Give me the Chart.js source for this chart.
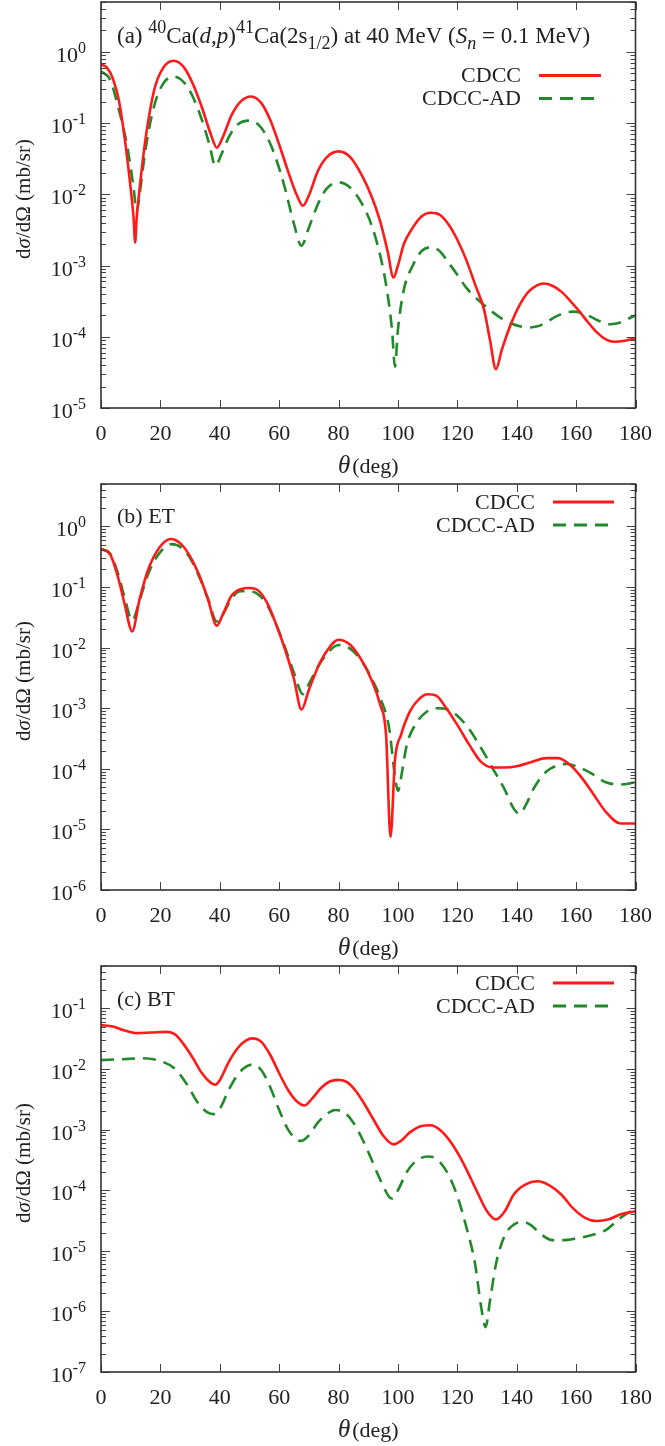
<!DOCTYPE html>
<html>
<head>
<meta charset="utf-8">
<script src="https://cdn.jsdelivr.net/npm/chart.js@4.4.1/dist/chart.umd.min.js"></script>
<style>
  html, body { margin: 0; padding: 0; background: #fff; }
  .panel { position: relative; width: 665px; height: 482px; }
</style>
</head>
<body>
<div class="panel"><canvas id="chartA"></canvas></div>
<div class="panel"><canvas id="chartB"></canvas></div>
<div class="panel"><canvas id="chartC"></canvas></div>
<script>
// ---- dados ----
const xTicks = [0, 20, 40, 60, 80, 100, 120, 140, 160, 180];
const seriesNames = ['CDCC', 'CDCC-AD'];

// (a) 40Ca(d,p)41Ca(2s1/2)
const aCdccTheta = [0, 2, 4, 6, 8, 10, 11, 11.5, 12, 13, 15, 18, 21, 24.5, 28, 31, 34, 37, 39, 41, 44, 47, 50.5, 54, 57, 60, 63, 66, 68, 70, 73, 76, 80, 84, 88, 91, 94, 96.5, 98.5, 100, 102, 105, 108, 111, 114, 117, 120, 123, 126, 129, 131, 133, 135, 138, 141, 144, 147, 149, 152, 155, 158, 161, 164, 167, 170, 173, 176, 180];
const aCdcc = [0.66, 0.6, 0.42, 0.21, 0.06, 0.012, 0.0045, 0.0021, 0.0045, 0.012, 0.06, 0.3, 0.6, 0.75, 0.6, 0.35, 0.165, 0.069, 0.045, 0.063, 0.13, 0.2, 0.236, 0.19, 0.11, 0.05, 0.021, 0.0096, 0.0069, 0.0096, 0.021, 0.033, 0.040, 0.033, 0.018, 0.0096, 0.0042, 0.0016, 0.00068, 0.001, 0.002, 0.0034, 0.0049, 0.0055, 0.0052, 0.0038, 0.0023, 0.0012, 0.00054, 0.00024, 0.00009, 0.000035, 0.000066, 0.00015, 0.00028, 0.00043, 0.00053, 0.00056, 0.00052, 0.00043, 0.00032, 0.00023, 0.00016, 0.000115, 0.000092, 0.000085, 0.000087, 0.000095];
const aAdTheta = [0, 3, 6, 9, 11, 12, 13, 15, 18, 21, 24.5, 28, 31, 34, 36.5, 38.5, 40.5, 43, 46, 50, 53, 56, 59, 62, 65, 67.5, 70, 73, 76, 80, 84, 88, 91, 94, 96, 98, 99, 100, 102, 105, 108, 111, 114, 117, 120, 123, 126, 129, 132, 135, 138, 141, 144, 147, 150, 153, 156, 159, 162, 165, 168, 171, 174, 177, 180];
const aAd = [0.53, 0.41, 0.155, 0.043, 0.012, 0.0057, 0.01, 0.043, 0.18, 0.36, 0.45, 0.37, 0.23, 0.11, 0.05, 0.025, 0.036, 0.063, 0.095, 0.108, 0.095, 0.063, 0.031, 0.012, 0.0038, 0.0019, 0.0034, 0.0072, 0.012, 0.0147, 0.0123, 0.0072, 0.0038, 0.0014, 0.00054, 0.000126, 0.000038, 0.000126, 0.00046, 0.001, 0.0016, 0.0018, 0.0016, 0.0011, 0.00074, 0.00049, 0.00036, 0.00028, 0.00022, 0.00018, 0.000155, 0.00014, 0.000135, 0.00014, 0.00016, 0.00019, 0.000215, 0.000225, 0.000215, 0.00019, 0.000165, 0.00015, 0.000155, 0.000175, 0.0002];

// (b) ET
const bCdccTheta = [0, 3, 6, 8, 10.5, 13, 16, 20, 23.5, 27, 30, 33, 36, 39, 41, 44, 47, 50, 53, 56, 59, 62, 65, 67.5, 70, 73, 76, 80, 84, 88, 91, 94, 96, 97.5, 99, 101, 104, 107, 110, 113, 116, 120, 124, 128, 132, 136, 140, 145, 150, 154, 158, 162, 166, 170, 175, 180];
const bCdcc = [0.42, 0.35, 0.13, 0.051, 0.0185, 0.063, 0.2, 0.47, 0.62, 0.51, 0.32, 0.16, 0.063, 0.023, 0.035, 0.072, 0.092, 0.096, 0.087, 0.054, 0.024, 0.0093, 0.003, 0.00095, 0.002, 0.0047, 0.0087, 0.0135, 0.011, 0.0059, 0.003, 0.00115, 0.00036, 0.0000075, 0.00014, 0.00036, 0.00088, 0.0014, 0.0017, 0.0016, 0.00105, 0.00053, 0.00025, 0.00013, 0.000105, 0.000105, 0.00011, 0.00013, 0.00015, 0.00015, 0.000115, 0.00007, 0.000037, 0.0000195, 0.0000125, 0.0000125];
const bAdTheta = [0, 3, 6, 8, 10.5, 13, 16, 20, 24, 27, 30, 33, 36, 39, 41, 44, 47, 50, 53, 56, 59, 62, 65, 68, 70, 73, 76, 80, 84, 88, 91, 94, 97, 99, 100, 101, 103, 106, 110, 113, 117, 120, 124, 128, 132, 136, 139, 141, 143, 146, 150, 154, 157, 160, 165, 170, 175, 180];
const bAd = [0.42, 0.36, 0.15, 0.065, 0.028, 0.06, 0.17, 0.38, 0.51, 0.45, 0.3, 0.15, 0.065, 0.027, 0.035, 0.065, 0.085, 0.085, 0.075, 0.05, 0.024, 0.01, 0.0038, 0.0017, 0.0025, 0.0048, 0.0078, 0.011, 0.0095, 0.0058, 0.0032, 0.0015, 0.00048, 0.000075, 0.000043, 0.00007, 0.00025, 0.00055, 0.0009, 0.001, 0.00095, 0.00075, 0.00045, 0.00022, 0.0001, 0.000045, 0.000022, 0.000018, 0.000025, 0.00005, 0.00009, 0.000115, 0.00012, 0.00011, 0.000085, 0.00006, 0.000055, 0.00006];

// (c) BT
const cCdccTheta = [0, 4, 8, 12, 17, 22, 25, 28, 31, 34, 37, 38.5, 40, 43, 46, 49, 51, 54, 57, 60, 63, 66, 68.5, 71, 74, 77, 80, 83, 86, 89, 92, 95, 98.5, 101, 104, 108, 111, 114, 118, 122, 126, 130, 133, 136, 139, 143, 147, 151, 155, 159, 163, 167, 171, 175, 180];
const cCdcc = [0.053, 0.05, 0.043, 0.039, 0.04, 0.041, 0.037, 0.025, 0.015, 0.0085, 0.0059, 0.0055, 0.0065, 0.013, 0.022, 0.03, 0.032, 0.028, 0.017, 0.0085, 0.0045, 0.0029, 0.0025, 0.0032, 0.0048, 0.0062, 0.0066, 0.006, 0.0042, 0.0025, 0.0014, 0.0008, 0.00057, 0.00065, 0.0009, 0.00115, 0.00118, 0.001, 0.0006, 0.00028, 0.00011, 0.000045, 0.000033, 0.000045, 0.000085, 0.000125, 0.00014, 0.00012, 0.000085, 0.00005, 0.000035, 0.000031, 0.000033, 0.00004, 0.000045];
const cAdTheta = [0, 7, 14, 20, 25, 29, 33, 36, 38, 40, 43, 46, 49, 51, 54, 57, 60, 63, 66, 67.5, 70, 73, 76, 79, 82, 85, 88, 91, 94, 97, 98, 100, 103, 106, 110, 113, 117, 120, 123, 126, 128, 129.5, 131, 133, 136, 139, 142, 145, 148, 152, 156, 160, 165, 170, 175, 180];
const cAd = [0.014, 0.0145, 0.015, 0.0135, 0.01, 0.0055, 0.0026, 0.0019, 0.0018, 0.0022, 0.0045, 0.008, 0.011, 0.0118, 0.0095, 0.005, 0.0021, 0.001, 0.00068, 0.00065, 0.0008, 0.0013, 0.0018, 0.0021, 0.0019, 0.0013, 0.0007, 0.00033, 0.00015, 0.000078, 0.000073, 0.0001, 0.0002, 0.0003, 0.00036, 0.00033, 0.00018, 0.00008, 0.000025, 0.000006, 0.0000012, 0.00000055, 0.0000015, 0.000006, 0.000018, 0.000027, 0.00003, 0.000026, 0.000019, 0.000015, 0.000015, 0.000016, 0.000018, 0.000022, 0.000035, 0.00005];

// ---- estilo ----
const FONT = '"Liberation Serif", "Times New Roman", serif';
const RED = '#ff1a1a';
const GREEN = '#22892a';
const AXIS = '#333333';

function pares(theta, vals) {
    return theta.map((t, i) => ({ x: t, y: vals[i] }));
}

// desenha texto com sobrescrito / subscrito / itálico
function textoRico(ctx, x, y, partes, size) {
    let cx = x;
    partes.forEach(p => {
        const pequeno = p.sup || p.sub;
        const fs = pequeno ? Math.round(size * 0.8) : (p.size || size);
        ctx.font = (p.i ? 'italic ' : '') + fs + 'px ' + FONT;
        const dy = p.sup ? -size * 0.42 : (p.sub ? size * 0.26 : 0);
        ctx.fillText(p.t, cx, y + dy);
        cx += ctx.measureText(p.t).width + (p.gap || 0);
    });
    return cx - x;
}

function larguraRica(ctx, partes, size) {
    let w = 0;
    partes.forEach(p => {
        const pequeno = p.sup || p.sub;
        const fs = pequeno ? Math.round(size * 0.8) : (p.size || size);
        ctx.font = (p.i ? 'italic ' : '') + fs + 'px ' + FONT;
        w += ctx.measureText(p.t).width + (p.gap || 0);
    });
    return w;
}

// plugin: moldura, ticks internos, rótulos 10^n, títulos e legenda
const moldura = {
    id: 'moldura',
    afterDatasetsDraw(chart, args, opts) {
        const ctx = chart.ctx;
        const a = chart.chartArea;
        const xs = chart.scales.x;
        const ys = chart.scales.y;
        ctx.save();

        // ticks do eixo x (para dentro, em baixo e em cima)
        ctx.strokeStyle = '#444';
        ctx.lineWidth = 1;
        xTicks.forEach(t => {
            const px = Math.round(xs.getPixelForValue(t)) + 0.5;
            ctx.beginPath();
            ctx.moveTo(px, a.bottom); ctx.lineTo(px, a.bottom - 8);
            ctx.moveTo(px, a.top); ctx.lineTo(px, a.top + 8);
            ctx.stroke();
        });

        // ticks do eixo y (décadas e subdivisões)
        const e0 = Math.floor(Math.log10(ys.min));
        const e1 = Math.ceil(Math.log10(ys.max));
        for (let e = e0; e <= e1; e++) {
            for (let m = 1; m <= 9; m++) {
                const v = m * Math.pow(10, e);
                if (v < ys.min * 0.999 || v > ys.max * 1.001) continue;
                const py = Math.round(ys.getPixelForValue(v)) + 0.5;
                const len = m === 1 ? 9 : 5;
                ctx.beginPath();
                ctx.moveTo(a.left, py); ctx.lineTo(a.left + len, py);
                ctx.moveTo(a.right, py); ctx.lineTo(a.right - len, py);
                ctx.stroke();
            }
        }

        // moldura
        ctx.strokeStyle = AXIS;
        ctx.lineWidth = 1.6;
        ctx.strokeRect(a.left, a.top, a.right - a.left, a.bottom - a.top);

        // rótulos 10^n
        ctx.fillStyle = '#222';
        ctx.textBaseline = 'alphabetic';
        for (let e = e0; e <= e1; e++) {
            const v = Math.pow(10, e);
            if (v < ys.min * 0.999 || v > ys.max * 1.001) continue;
            const py = ys.getPixelForValue(v);
            const exp = String(e);
            ctx.font = '16px ' + FONT;
            const we = ctx.measureText(exp).width;
            const xr = a.left - 15;
            ctx.textAlign = 'left';
            ctx.fillText(exp, xr - we, py + 1);
            ctx.font = '22px ' + FONT;
            ctx.textAlign = 'right';
            ctx.fillText('10', xr - we, py + 10);
        }

        // título do eixo x: θ(deg)
        ctx.textAlign = 'left';
        const cxm = (a.left + a.right) / 2;
        const tx = [{ t: 'θ', i: true, size: 25, gap: 2 }, { t: '(deg)' }];
        const wt = larguraRica(ctx, tx, 22);
        textoRico(ctx, cxm - wt / 2, a.bottom + 65, tx, 22);

        // título do eixo y
        ctx.save();
        ctx.translate(30, (a.top + a.bottom) / 2 - 6);
        ctx.rotate(-Math.PI / 2);
        const ty = [{ t: 'd' }, { t: 'σ', i: true }, { t: '/dΩ (mb/sr)' }];
        const wy = larguraRica(ctx, ty, 21);
        textoRico(ctx, -wy / 2, 0, ty, 21);
        ctx.restore();

        // rótulo do painel
        textoRico(ctx, 117, opts.labelY, opts.label, opts.labelSize || 22);

        // legenda
        ctx.font = '22px ' + FONT;
        ctx.textAlign = 'right';
        ctx.textBaseline = 'middle';
        const cores = [RED, GREEN];
        seriesNames.forEach((nome, i) => {
            const ly = opts.legY[i];
            ctx.fillStyle = '#222';
            ctx.fillText(nome, opts.legX, ly + 1);
            ctx.strokeStyle = cores[i];
            ctx.lineWidth = 3;
            ctx.setLineDash(i === 0 ? [] : [13, 8]);
            ctx.beginPath();
            ctx.moveTo(opts.lineX[0], ly);
            ctx.lineTo(opts.lineX[1], ly);
            ctx.stroke();
        });
        ctx.setLineDash([]);
        ctx.restore();
    }
};

function criarGrafico(id, cdccTheta, cdcc, adTheta, ad, yMin, yMax, painel) {
    const ctx = document.getElementById(id).getContext('2d');
    return new Chart(ctx, {
        type: 'line',
        data: {
            datasets: [{
                label: seriesNames[0],
                data: pares(cdccTheta, cdcc),
                borderColor: RED,
                borderWidth: 2.6,
                pointRadius: 0,
                cubicInterpolationMode: 'monotone'
            }, {
                label: seriesNames[1],
                data: pares(adTheta, ad),
                borderColor: GREEN,
                borderWidth: 2.6,
                borderDash: [13, 8],
                pointRadius: 0,
                cubicInterpolationMode: 'monotone'
            }]
        },
        options: {
            responsive: true,
            maintainAspectRatio: false,
            animation: false,
            events: [],
            layout: { padding: { top: 2, right: 24, left: 0, bottom: 0 } },
            plugins: {
                legend: { display: false },
                tooltip: { enabled: false },
                moldura: painel
            },
            scales: {
                x: {
                    type: 'linear',
                    min: 0,
                    max: 180,
                    afterBuildTicks: s => { s.ticks = xTicks.map(v => ({ value: v })); },
                    grid: { display: false, drawTicks: false },
                    border: { display: false },
                    ticks: {
                        color: '#222',
                        font: { family: FONT, size: 22 },
                        padding: 13,
                        maxRotation: 0
                    },
                    afterFit: s => { s.height = 74; }
                },
                y: {
                    type: 'logarithmic',
                    min: yMin,
                    max: yMax,
                    grid: { display: false, drawTicks: false },
                    border: { display: false },
                    ticks: { display: false },
                    afterFit: s => { s.width = 101; }
                }
            }
        },
        plugins: [moldura]
    });
}

document.addEventListener('DOMContentLoaded', () => {
    criarGrafico('chartA', aCdccTheta, aCdcc, aAdTheta, aAd, 1e-5, 5, {
        label: [{ t: '(a) ' }, { t: '40', sup: true }, { t: 'Ca(' }, { t: 'd,p', i: true }, { t: ')' }, { t: '41', sup: true },
                { t: 'Ca(2s' }, { t: '1/2', sub: true }, { t: ') at 40 MeV (' }, { t: 'S', i: true }, { t: 'n', i: true, sub: true }, { t: ' = 0.1 MeV)' }],
        labelY: 43,
        labelSize: 23,
        legX: 521, lineX: [539, 601], legY: [75.5, 98.5]
    });
    criarGrafico('chartB', bCdccTheta, bCdcc, bAdTheta, bAd, 1e-6, 5, {
        label: [{ t: '(b) ET' }],
        labelY: 41,
        legX: 535, lineX: [553, 614], legY: [20, 43]
    });
    criarGrafico('chartC', cCdccTheta, cCdcc, cAdTheta, cAd, 1e-7, 0.5, {
        label: [{ t: '(c) BT' }],
        labelY: 42,
        legX: 535, lineX: [553, 614], legY: [19, 42]
    });
});
</script>
</body>
</html>
